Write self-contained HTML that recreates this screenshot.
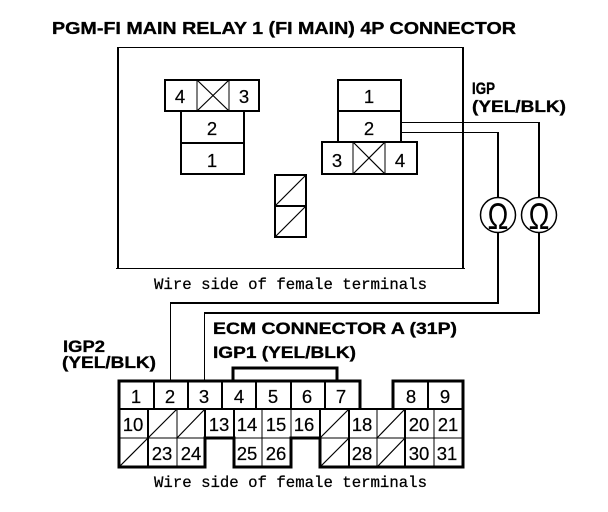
<!DOCTYPE html>
<html><head><meta charset="utf-8"><style>
html,body{margin:0;padding:0;background:#fff}
svg{display:block}
text{font-family:"Liberation Sans",sans-serif;fill:#000}
.b{font-weight:bold;font-size:17px;stroke:#000;stroke-width:.35px}
.n{font-size:18.5px;text-anchor:middle;stroke:#000;stroke-width:.2px}
.m{font-family:"Liberation Mono",monospace;font-size:15.7px;stroke:#000;stroke-width:.25px}
.o{font-size:37px;text-anchor:middle}
</style></head><body>
<svg width="608" height="512" viewBox="0 0 608 512" xmlns="http://www.w3.org/2000/svg">
<rect width="608" height="512" fill="#fff"/>
<g fill="#000" shape-rendering="crispEdges">
<!-- main box -->
<rect x="117" y="47" width="2" height="222"/><rect x="462" y="47" width="2" height="222"/>
<rect x="117" y="47" width="347" height="1"/><rect x="116" y="268" width="349" height="1"/>
<!-- wires -->
<rect x="401" y="122" width="139" height="1"/><rect x="401" y="132" width="98" height="1"/>
<rect x="538" y="122" width="2" height="76"/><rect x="497" y="132" width="2" height="66"/>
<rect x="497" y="232" width="2" height="72"/><rect x="538" y="232" width="2" height="81"/>
<rect x="171" y="302" width="328" height="2"/><rect x="204" y="312" width="336" height="2"/>
<rect x="170" y="302" width="1" height="79"/><rect x="204" y="312" width="1" height="69"/>
</g>
<g fill="none" stroke="#000" stroke-width="2" shape-rendering="crispEdges">
<path d="M165 80H259V111H165ZM181 111H244V174H181ZM181 143H244"/>
<path d="M197 80V111M229 80V111" stroke-width="1"/>
<path d="M338 80H401V142H338ZM338 111H401M322 142H417V174H322Z"/>
<path d="M353 142V174M385 142V174" stroke-width="1"/>
<path d="M275 175H306V237H275ZM275 206H306"/>
</g>
<g fill="none" stroke="#000" stroke-width="1.2">
<path d="M197 80L229 111M229 80L197 111"/>
<path d="M353 142L385 174M385 142L353 174"/>
<path d="M275 206L306 175M275 237L306 206"/>
</g>
<circle cx="498" cy="215" r="17.5" fill="#fff" stroke="#000" stroke-width="1.5"/>
<circle cx="539" cy="215" r="17.5" fill="#fff" stroke="#000" stroke-width="1.5"/>
<text class="o" transform="translate(498 229) scale(.75 1)">Ω</text>
<text class="o" transform="translate(539 229) scale(.75 1)">Ω</text>

<g fill="none" stroke="#000" stroke-width="2" shape-rendering="crispEdges">
<path d="M233 381V368H337V381" stroke-width="3"/>
<path d="M360 409V381H119V467H205V438H234V467H291V438H320V467H463V381H393V409" stroke-width="3"/>
<path d="M119 409H463"/>
<path d="M154 381V409M188 381V409M222 381V409M256 381V409M291 381V409M325 381V409M428 381V409"/>
<path d="M148 409V467M205 409V438M234 409V438M349 409V467M405 409V467M320 409V438"/>
<path d="M177 409V467M262 409V467M291 409V438M377 409V467M434 409V467" stroke-width="1"/>
<path d="M320 438H463M119 438H205M234 438H291" stroke-width="1"/>
</g>
<g fill="none" stroke="#000" stroke-width="1.2">
<path d="M148 438L177 409M177 438L205 409M119 467L148 438M320 438L349 409M377 438L405 409M320 467L349 438M377 467L405 438"/>
</g>

<text x="52" y="34" class="b" style="font-size:17.5px" textLength="464" lengthAdjust="spacingAndGlyphs">PGM-FI MAIN RELAY 1 (FI MAIN) 4P CONNECTOR</text>
<text x="472" y="94" class="b" textLength="23" lengthAdjust="spacingAndGlyphs">IGP</text>
<text x="472" y="112" class="b" textLength="94" lengthAdjust="spacingAndGlyphs">(YEL/BLK)</text>
<text x="63" y="352" class="b" textLength="42" lengthAdjust="spacingAndGlyphs">IGP2</text>
<text x="62" y="368" class="b" textLength="94" lengthAdjust="spacingAndGlyphs">(YEL/BLK)</text>
<text x="213" y="334" class="b" textLength="244" lengthAdjust="spacingAndGlyphs">ECM CONNECTOR A (31P)</text>
<text x="213" y="358" class="b" textLength="143" lengthAdjust="spacingAndGlyphs">IGP1 (YEL/BLK)</text>

<text x="154" y="289" class="m">Wire side of female terminals</text>
<text x="154" y="487" class="m">Wire side of female terminals</text>

<text class="n" x="180" y="103">4</text><text class="n" x="244" y="103">3</text>
<text class="n" x="212" y="135">2</text><text class="n" x="212" y="167">1</text>
<text class="n" x="369" y="103">1</text><text class="n" x="369" y="135">2</text>
<text class="n" x="337" y="167">3</text><text class="n" x="400" y="167">4</text>

<text class="n" x="136" y="403">1</text><text class="n" x="170" y="403">2</text><text class="n" x="204" y="403">3</text><text class="n" x="239" y="403">4</text><text class="n" x="273" y="403">5</text><text class="n" x="307" y="403">6</text><text class="n" x="341" y="403">7</text><text class="n" x="411" y="403">8</text><text class="n" x="445" y="403">9</text>
<text class="n" x="133" y="431">10</text><text class="n" x="219" y="431">13</text><text class="n" x="247" y="431">14</text><text class="n" x="276" y="431">15</text><text class="n" x="304" y="431">16</text><text class="n" x="362" y="431">18</text><text class="n" x="419" y="431">20</text><text class="n" x="448" y="431">21</text>
<text class="n" x="162" y="460">23</text><text class="n" x="191" y="460">24</text><text class="n" x="247" y="460">25</text><text class="n" x="276" y="460">26</text><text class="n" x="362" y="460">28</text><text class="n" x="419" y="460">30</text><text class="n" x="447" y="460">31</text>
</svg>
</body></html>
